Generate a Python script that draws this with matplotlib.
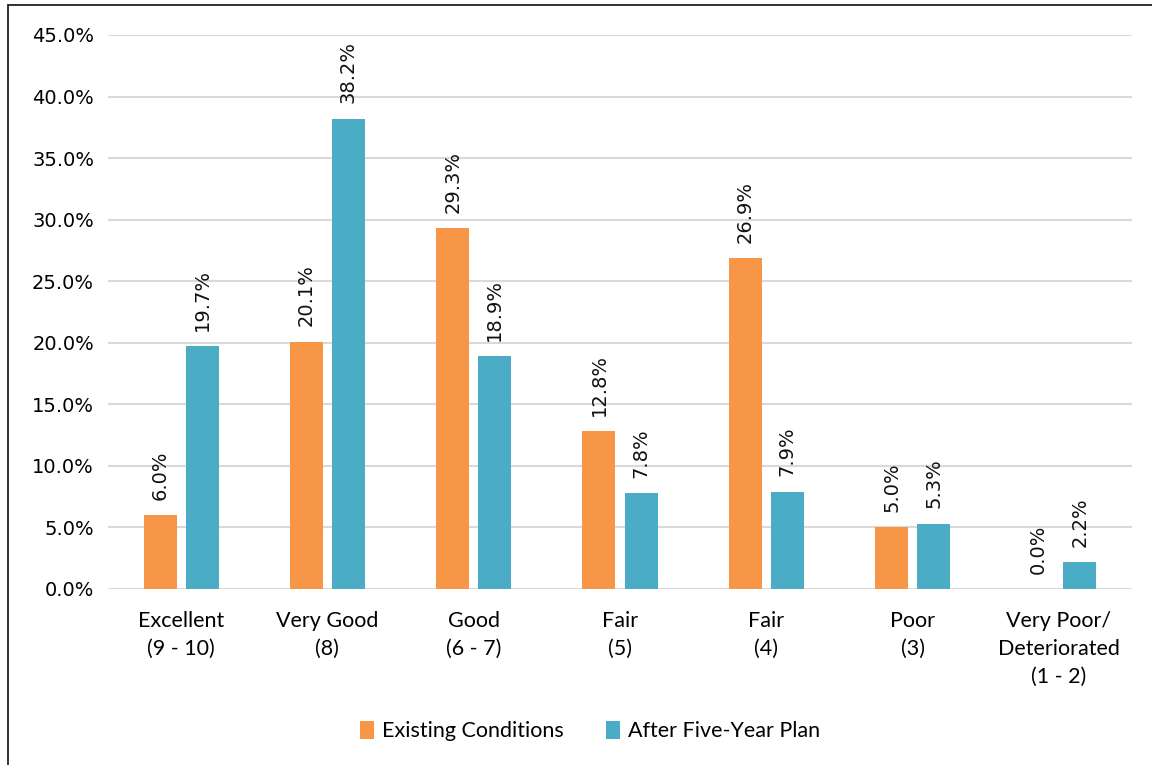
import numpy as np
import matplotlib.pyplot as plt
from matplotlib.patches import Rectangle

# data
categories = ["Excellent\n(9 - 10)", "Very Good\n(8)", "Good\n(6 - 7)", "Fair\n(5)",
              "Fair\n(4)", "Poor\n(3)", "Very Poor/\nDeteriorated\n(1 - 2)"]
existing = [6.0, 20.1, 29.3, 12.8, 26.9, 5.0, 0.0]
after_plan = [19.7, 38.2, 18.9, 7.8, 7.9, 5.3, 2.2]
series_names = ["Existing Conditions", "After Five-Year Plan"]
yticks = [0, 5, 10, 15, 20, 25, 30, 35, 40, 45]

orange = "#F79646"
blue = "#4BACC6"

fig = plt.figure(figsize=(11.52, 7.65), dpi=100)
ax = fig.add_axes([108/1152, 1 - 589/765, 1024/1152, 554/765])

x = np.arange(len(categories))
w = 0.226
off = 0.144
b1 = ax.bar(x - off, existing, w, color=orange, label=series_names[0], zorder=3)
b2 = ax.bar(x + off, after_plan, w, color=blue, label=series_names[1], zorder=3)

for bars, vals in [(b1, existing), (b2, after_plan)]:
    for rect, v in zip(bars, vals):
        ax.annotate(f"{v:.1f}%", (rect.get_x() + rect.get_width() / 2, v),
                    xytext=(0, 11), textcoords="offset points",
                    rotation=90, ha="center", va="bottom",
                    fontsize=14, family="DejaVu Sans", color="#111111")

ax.set_xlim(-0.5, len(categories) - 0.5)
ax.set_ylim(0, 45)
ax.set_yticks(yticks)
ax.set_yticklabels([f"{t:.1f}%" for t in yticks], fontsize=14, family="DejaVu Sans")
ax.set_xticks(x)
ax.set_xticklabels(categories, fontsize=15.5, family="Lato", linespacing=1.5)
ax.tick_params(length=0, pad=10)
ax.tick_params(axis="x", pad=16)
ax.grid(axis="y", color="#d9d9d9", linewidth=1.5, zorder=0)
for s in ax.spines.values():
    s.set_visible(False)

leg = fig.legend(loc="center", bbox_to_anchor=(590/1152, 1 - 731/765), ncol=2,
                 frameon=False, prop={"family": "Lato", "size": 15.5},
                 handlelength=0.65, handleheight=0.9, handletextpad=0.35,
                 columnspacing=2.0)

# outer chart border
fig.patches.append(Rectangle((8/1152, -0.01), 1.05, 1 - 5/765 + 0.01,
                             transform=fig.transFigure, fill=False,
                             edgecolor="#222222", linewidth=1.3))

fig.savefig("out.png", dpi=100)
